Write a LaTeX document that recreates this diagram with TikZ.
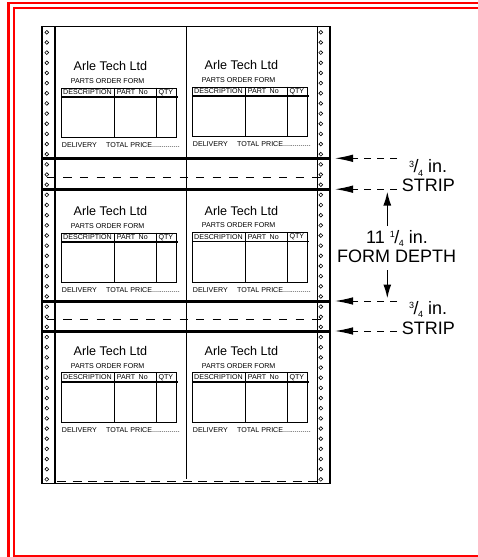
\documentclass[tikz,border=0pt]{standalone}
\usepackage{fontspec}
\setmainfont{Liberation Sans}
\usetikzlibrary{arrows.meta}
\newcommand\orderform[3]{%
  \begin{scope}[shift={(#1,#2)}]
    \node[titletext] (#3-title) at (12.5,-21.5) {Arle Tech Ltd};
    \node[smalltext] (#3-sub) at (9.7,-6.5) {PARTS ORDER FORM};
    \node[draw, line width=0.9pt, minimum width=115pt, minimum height=49.6pt, anchor=north west, inner sep=0pt] (#3-box) at (0,0) {};
    \draw[line width=1.4pt] (0,9.6) -- (116.5,9.6);
    \draw[line width=0.9pt] (53.3,0) -- (53.3,49.6);
    \draw[line width=0.9pt] (95.7,0) -- (95.7,49.6);
    \node[smalltext] (#3-h1) at (2,4.9) {DESCRIPTION};
    \node[smalltext] (#3-h2) at (55.7,4.9) {PART\enspace No};
    \node[smalltext] (#3-h3) at (97.3,4.9) {QTY};
    \node[smalltext] (#3-del) at (0.7,57.8) {DELIVERY};
    \node[smalltext] (#3-tot) at (45,57.8) {TOTAL PRICE..............};
  \end{scope}}
\begin{document}
\begin{tikzpicture}[x=1pt,y=-1pt,
  titletext/.style={anchor=west,inner sep=0pt,font=\fontsize{12.6}{14}\selectfont},
  smalltext/.style={anchor=west,inner sep=0pt,font=\fontsize{7.1}{8}\selectfont},
  bigtext/.style={inner sep=0pt,font=\fontsize{18}{20}\selectfont},
  frameline/.style={draw=red,line width=2.4pt},
  edge/.style={line width=1.3pt},
  tearline/.style={line width=3pt},
  perfline/.style={line width=1.5pt,dash pattern=on 8.3pt off 8.3pt},
  hole/.style={line width=0.6pt},
  dimline/.style={line width=1pt,dash pattern=on 7pt off 6pt,-{Latex[length=18pt,width=7.5pt]}},
  depthline/.style={line width=1.6pt,-{Latex[length=14pt,width=8pt]}}
]
\useasboundingbox (0,0) rectangle (478,557);
\clip (0,0) rectangle (478,557);
% red frame
\draw[frameline] (8.4,570) -- (8.4,2.8) -- (490,2.8);
\draw[frameline] (490,8) -- (13.7,8) -- (13.7,555.7) -- (490,555.7);
% paper
\draw[edge] (42,26.7) rectangle (330,483.5);
\draw[edge] (55,26.7) -- (55,483.5);
\draw[edge] (317.3,26.7) -- (317.3,483.5);
\draw[line width=1pt] (186,26.7) -- (186,479);
% sprocket holes
\foreach \k in {0,...,44}{
  \draw[hole] (46.8,32.3+10.16*\k) circle (1.9);
  \draw[hole] (320.8,32.3+10.16*\k) circle (1.9);
}
% tear strips
\draw[tearline] (42,158.3) -- (330,158.3);
\draw[tearline] (42,189.2) -- (330,189.2);
\draw[tearline] (42,301) -- (330,301);
\draw[tearline] (42,331) -- (330,331);
\draw[perfline] (46.7,177.7) -- (324,177.7);
\draw[perfline] (46.7,319.3) -- (324,319.3);
% bottom perforation
\draw[line width=1.6pt,dash pattern=on 9pt off 6.7pt] (57,481.6) -- (317,481.6);
% forms
\orderform{61}{87.5}{fa}
\orderform{192}{86.5}{fb}
\orderform{61}{232.5}{fc}
\orderform{192}{232}{fd}
\orderform{61}{372.3}{fe}
\orderform{192}{372.3}{ff}
% annotations
\coordinate (t1) at (335,158.3);
\coordinate (e1) at (397,158.3);
\coordinate (t2) at (335,189.2);
\coordinate (e2) at (397,189.2);
\coordinate (t3) at (335,301);
\coordinate (e3) at (397,301);
\coordinate (t4) at (335,331);
\coordinate (e4) at (397,331);
\draw[dimline] (e1) -- (t1);
\draw[dimline] (e2) -- (t2);
\draw[dimline] (e3) -- (t3);
\draw[dimline] (e4) -- (t4);
\newcommand\threequarter{{\raisebox{0.55ex}{\fontsize{9}{9}\selectfont 3}\kern-0.5pt/\kern-0.5pt\raisebox{-0.35ex}{\fontsize{9}{9}\selectfont 4}}}
\newcommand\onequarter{{\raisebox{0.55ex}{\fontsize{9}{9}\selectfont 1}\kern-0.5pt/\kern-0.5pt\raisebox{-0.35ex}{\fontsize{9}{9}\selectfont 4}}}
\node[bigtext,anchor=west] (q1) at (409,168) {\threequarter\ in.};
\node[bigtext,anchor=west] (s1) at (401.7,185.7) {STRIP};
\node[bigtext,anchor=west] (q2) at (409,309.3) {\threequarter\ in.};
\node[bigtext,anchor=west] (s2) at (401.7,328.3) {STRIP};
\node[bigtext] (d1) at (397,238.3) {11 \onequarter\ in.};
\node[bigtext] (d2) at (396.7,256.7) {FORM DEPTH};
\coordinate (ua) at (387.3,191.5);
\coordinate (ub) at (387.3,226);
\coordinate (da) at (387.3,270);
\coordinate (db) at (387.3,298.5);
\draw[depthline] (ub) -- (ua);
\draw[depthline] (da) -- (db);
\end{tikzpicture}
\end{document}
